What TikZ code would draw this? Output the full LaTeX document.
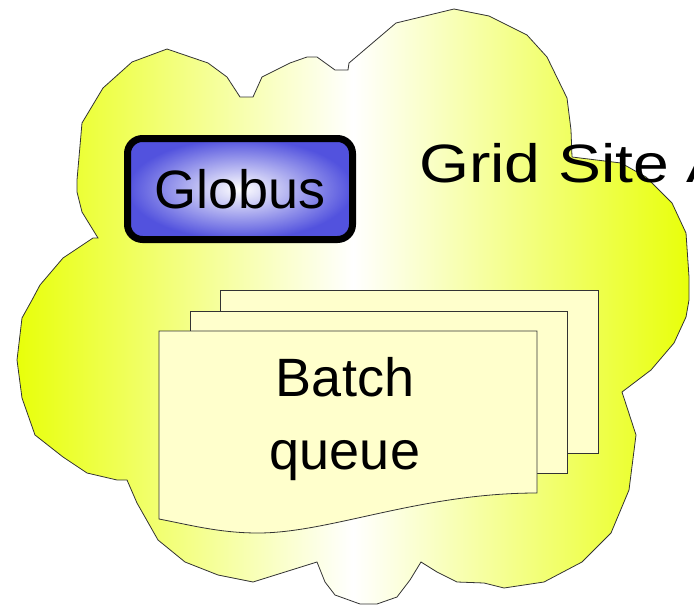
\documentclass[tikz,border=0pt]{standalone}
\usepackage{fontspec}
\setmainfont{Liberation Sans}
\newfontfamily\widefont[FakeStretch=1.19]{Liberation Sans}
\definecolor{cloudyellow}{RGB}{232,255,10}
\definecolor{sheetyellow}{RGB}{255,255,204}
\definecolor{globusblue}{RGB}{82,82,222}
\begin{document}
\begin{tikzpicture}[x=1pt,y=-1pt,
  sheet/.style={fill=sheetyellow, draw=black!80, line width=0.8pt},
  bigtext/.style={inner sep=0, font=\fontsize{54}{73}\selectfont}]
\useasboundingbox (0,0) rectangle (694,605);
% site cloud
\draw[draw=black!80, line width=0.8pt, left color=cloudyellow, right color=cloudyellow, middle color=white]
  (167,49) -- (208,63) -- (227,77) -- (240,97) -- (253,97) -- (262,77) -- (290,63) -- (307,57) -- (317,57)
  -- (335,70) -- (348,70) -- (349,63) -- (396,23) -- (454,9) -- (489,16) -- (527,35) -- (547,57) -- (567,98)
  -- (571,130) -- (572,157) -- (621,163) -- (646,177) -- (672,203) -- (686,233) -- (689,277) -- (689,300)
  -- (686,317) -- (674,343) -- (651,370) -- (622,392) -- (636,435) -- (629,490) -- (611,533) -- (582,562)
  -- (544,582) -- (504,588) -- (484,583) -- (457,582) -- (437,572) -- (421,562) -- (410,580) -- (397,597)
  -- (377,604) -- (360,604) -- (335,595) -- (325,582) -- (317,562) -- (285,572) -- (253,582) -- (218,575)
  -- (185,562) -- (158,540) -- (137,503) -- (127,480) -- (117,480) -- (87,473) -- (63,457) -- (35,435)
  -- (22,398) -- (17,360) -- (22,318) -- (32,300) -- (40,285) -- (63,258) -- (93,238) -- (98,238)
  -- (82,212) -- (77,192) -- (77,180) -- (82,123) -- (103,88) -- (132,62) -- cycle;
\node[draw, line width=7pt, rounded corners=15pt, inner color=white, outer color=globusblue,
  minimum width=225pt, minimum height=101pt, bigtext] (globus) at (240,189){Globus};
\node[bigtext, anchor=base west] (site) at (419,182){\widefont Grid Site A};
% batch queue sheets
\draw[sheet] (220,290) rectangle (598,453);
\draw[sheet] (190,311) rectangle (567,473);
\draw[sheet] (159,331) -- (537,331) -- (537,493) .. controls (420,493) and (330,533) .. (258,533)
  .. controls (220,533) and (190,525) .. (159,519) -- cycle;
\node[bigtext, align=center] (batch) at (345,419.5){Batch\\queue};
\end{tikzpicture}
\end{document}
